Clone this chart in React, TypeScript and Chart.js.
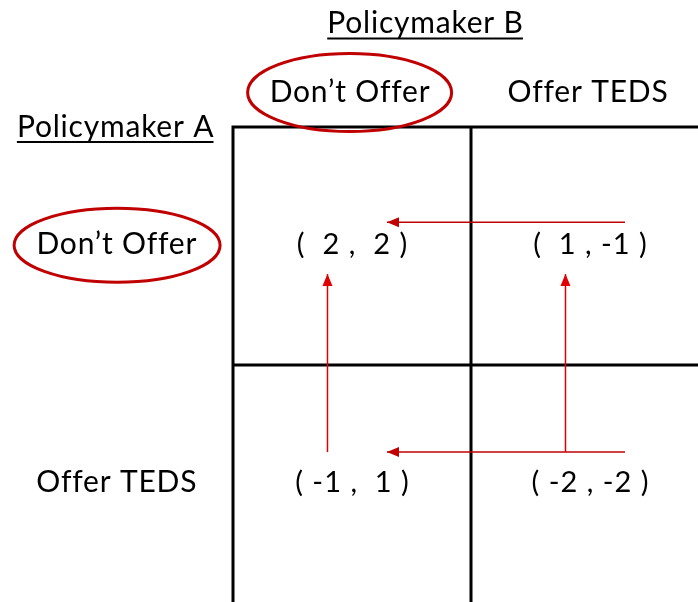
import { useEffect, useRef } from "react";
import { Chart, registerables } from "chart.js";

Chart.register(...registerables);

// ---- data ----
const players = ["Policymaker A", "Policymaker B"];
const rowStrategies = ["Don’t Offer", "Offer TEDS"];
const colStrategies = ["Don’t Offer", "Offer TEDS"];
const payoffsA = [
  [2, 1],
  [-1, -2],
];
const payoffsB = [
  [2, -1],
  [1, -2],
];
const equilibriumRow = 0;
const equilibriumCol = 0;
// best-response arrows: [row, col] of origin cell -> destination cell
const arrowFrom = [
  [0, 1],
  [1, 0],
  [1, 1],
  [1, 1],
];
const arrowTo = [
  [0, 0],
  [0, 0],
  [0, 1],
  [1, 0],
];

// ---- styles / layout ----
const W = 698;
const H = 602;
const GRID_LEFT = 233;
const GRID_TOP = 127;
const CELL = 238;
const FONT = 'Lato, "Open Sans", sans-serif';
const RED = "#C00000";
const HEAD_SIZE = 30;
const HEAD_LS = 0.8;
const PAY_SIZE = 29;
const PAY_LS = 1;
const textDy = -0.01;
const hArrowDy = [-0.1, -0.134];
const hArrowDx = 0.147;
const vArrowDx = -0.103;
const vArrowTailDy = -0.134;
const vArrowTipDy = 0.118;

const xMin = -GRID_LEFT / CELL;
const xMax = (W - GRID_LEFT) / CELL;
const yMin = -GRID_TOP / CELL;
const yMax = (H - GRID_TOP) / CELL;

function fmtNum(n: number) {
  return n < 0 ? `${n}` : ` ${n}`;
}
function fmtPair(a: number, b: number) {
  return `( ${fmtNum(a)} , ${fmtNum(b)} )`.replace("(  -", "( -");
}

export default function App() {
  const ref = useRef<HTMLCanvasElement | null>(null);

  useEffect(() => {
    const canvas = ref.current;
    if (!canvas) return;

    const gridDatasets: any[] = [
      {
        data: [
          { x: 0, y: 2.2 },
          { x: 0, y: 0 },
          { x: 2.2, y: 0 },
        ],
      },
      {
        data: [
          { x: 1, y: 0 },
          { x: 1, y: 2.2 },
        ],
      },
      {
        data: [
          { x: 0, y: 1 },
          { x: 2.2, y: 1 },
        ],
      },
    ].map((d) => ({
      ...d,
      showLine: true,
      borderColor: "#000000",
      borderWidth: 3,
      borderJoinStyle: "miter",
      pointRadius: 0,
      isGrid: true,
    }));

    const arrowDatasets: any[] = arrowFrom.map((from, i) => {
      const to = arrowTo[i];
      let pts;
      let color;
      if (from[0] === to[0]) {
        const y = from[0] + 0.5 + hArrowDy[from[0]];
        pts = [
          { x: from[1] + 0.5 + hArrowDx, y },
          { x: to[1] + 0.5 + hArrowDx, y },
        ];
        color = RED;
      } else {
        const x = from[1] + 0.5 + vArrowDx;
        pts = [
          { x, y: from[0] + 0.5 + vArrowTailDy },
          { x, y: to[0] + 0.5 + vArrowTipDy },
        ];
        color = "#E00000";
      }
      return {
        data: pts,
        showLine: true,
        borderColor: color,
        borderWidth: 1.5,
        pointRadius: 0,
        isArrow: true,
      };
    });

    const drawText = (
      ctx: CanvasRenderingContext2D,
      text: string,
      px: number,
      py: number,
      size: number,
      ls: number,
      underline = false
    ) => {
      ctx.save();
      ctx.font = `${size}px ${FONT}`;
      (ctx as any).letterSpacing = `${ls}px`;
      ctx.fillStyle = "#000000";
      ctx.textAlign = "left";
      ctx.textBaseline = "alphabetic";
      const w = ctx.measureText(text).width - ls;
      const left = px - w / 2;
      const cap = size * 0.72;
      const base = py + cap / 2;
      ctx.fillText(text, left, base);
      if (underline) {
        ctx.strokeStyle = "#000000";
        ctx.lineWidth = 2;
        ctx.beginPath();
        ctx.moveTo(left, base + 5.5);
        ctx.lineTo(left + w, base + 5.5);
        ctx.stroke();
      }
      ctx.restore();
    };

    const matrixPlugin = {
      id: "matrix",
      afterDatasetsDraw(chart: any) {
        const ctx = chart.ctx as CanvasRenderingContext2D;
        const xs = chart.scales.x;
        const ys = chart.scales.y;
        const px = (v: number) => xs.getPixelForValue(v);
        const py = (v: number) => ys.getPixelForValue(v);

        // arrowheads
        chart.data.datasets.forEach((ds: any, i: number) => {
          if (!ds.isArrow) return;
          const meta = chart.getDatasetMeta(i);
          const p0 = meta.data[0];
          const p1 = meta.data[1];
          const ang = Math.atan2(p1.y - p0.y, p1.x - p0.x);
          const len = 12;
          const half = 5;
          ctx.save();
          ctx.translate(p1.x, p1.y);
          ctx.rotate(ang);
          ctx.fillStyle = ds.borderColor;
          ctx.beginPath();
          ctx.moveTo(0, 0);
          ctx.lineTo(-len, -half);
          ctx.lineTo(-len, half);
          ctx.closePath();
          ctx.fill();
          ctx.restore();
        });

        // player labels
        drawText(ctx, players[1], px(0.807), py(-0.44), HEAD_SIZE, HEAD_LS, true);
        drawText(ctx, players[0], px(-0.495), py(-0.005), HEAD_SIZE, HEAD_LS, true);

        // column strategies
        colStrategies.forEach((s, c) => {
          drawText(ctx, s, px(c + 0.49), py(-0.15), HEAD_SIZE, HEAD_LS);
        });
        // row strategies
        rowStrategies.forEach((s, r) => {
          drawText(ctx, s, px(-0.49), py(r + 0.5 + textDy), HEAD_SIZE, HEAD_LS);
        });
        // payoffs
        payoffsA.forEach((row, r) => {
          row.forEach((a, c) => {
            const b = payoffsB[r][c];
            drawText(ctx, fmtPair(a, b), px(c + 0.5), py(r + 0.5 + textDy), PAY_SIZE, PAY_LS);
          });
        });

        // equilibrium ellipses
        ctx.save();
        ctx.strokeStyle = RED;
        ctx.lineWidth = 3;
        ctx.beginPath();
        ctx.ellipse(px(equilibriumCol + 0.49), py(-0.145), 102, 39, 0, 0, Math.PI * 2);
        ctx.stroke();
        ctx.beginPath();
        ctx.ellipse(px(-0.487), py(equilibriumRow + 0.497), 103, 37, 0, 0, Math.PI * 2);
        ctx.stroke();
        ctx.restore();
      },
    };

    const chart = new Chart(canvas, {
      type: "scatter",
      data: { datasets: [...arrowDatasets, ...gridDatasets] },
      options: {
        animation: false,
        responsive: false,
        events: [],
        layout: { padding: 0 },
        plugins: {
          legend: { display: false },
          tooltip: { enabled: false },
        },
        scales: {
          x: { type: "linear", min: xMin, max: xMax, display: false },
          y: { type: "linear", min: yMin, max: yMax, reverse: true, display: false },
        },
      },
      plugins: [matrixPlugin],
    } as any);

    return () => chart.destroy();
  }, []);

  return (
    <div style={{ position: "fixed", left: 0, top: 0, width: W, height: H, background: "#fff" }}>
      <canvas ref={ref} width={W} height={H} style={{ display: "block" }} />
    </div>
  );
}
